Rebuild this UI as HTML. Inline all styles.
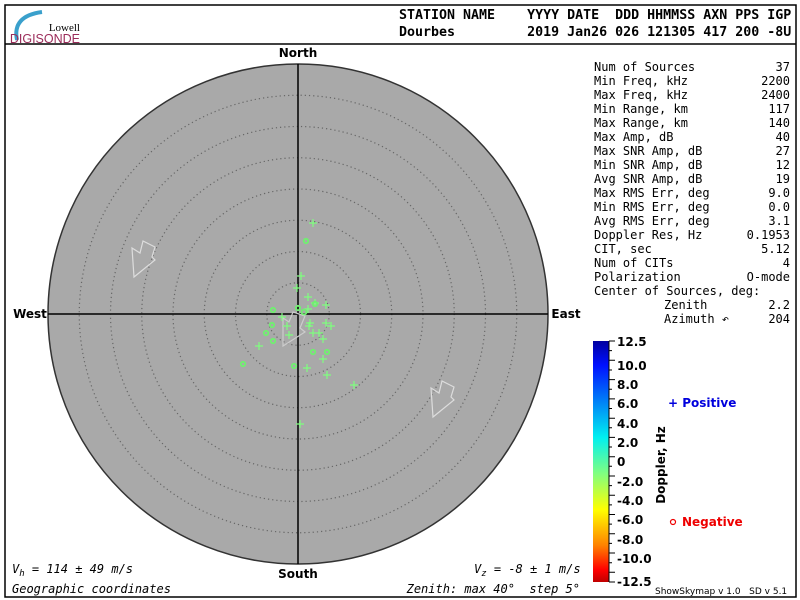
<!DOCTYPE html>
<html><head><style>
body{margin:0;background:#fff;width:800px;height:600px;overflow:hidden}
svg{display:block}
text{white-space:pre}
.m{font-family:"DejaVu Sans Mono","Liberation Mono",monospace;font-size:12px;fill:#000}
.b{font-family:"DejaVu Sans","Liberation Sans",sans-serif;font-weight:bold;font-size:12px}
</style></head><body>
<svg width="800" height="600" viewBox="0 0 800 600" xml:space="preserve">
<rect x="5" y="5" width="791" height="592" fill="none" stroke="#000" stroke-width="1.5"/>
<line x1="5" y1="44" x2="796" y2="44" stroke="#000" stroke-width="1.5"/>
<path d="M17 40 Q12 16 42 12" stroke="#3aa0cc" stroke-width="4" fill="none"/>
<text x="80" y="31" font-family="Liberation Serif,serif" font-size="11" text-anchor="end">Lowell</text>
<text x="80" y="43" font-family="Liberation Sans,sans-serif" font-size="12.5" fill="#9b2c5a" text-anchor="end">DIGISONDE</text>
<text x="399" y="19" style="font-family:'DejaVu Sans Mono',monospace;font-size:13.3px;font-weight:bold">STATION NAME    YYYY DATE  DDD HHMMSS AXN PPS IGP</text>
<text x="399" y="36" style="font-family:'DejaVu Sans Mono',monospace;font-size:13.3px;font-weight:bold">Dourbes         2019 Jan26 026 121305 417 200 -8U</text>
<circle cx="298" cy="314" r="250" fill="#a9a9a9" stroke="#333" stroke-width="1.5"/>
<g fill="none" stroke="#666" stroke-width="1.2" stroke-dasharray="1.2 3">
<circle cx="298" cy="314" r="31.25"/><circle cx="298" cy="314" r="62.5"/><circle cx="298" cy="314" r="93.75"/><circle cx="298" cy="314" r="125"/><circle cx="298" cy="314" r="156.25"/><circle cx="298" cy="314" r="187.5"/><circle cx="298" cy="314" r="218.75"/>
</g>
<line x1="298" y1="64" x2="298" y2="564" stroke="#000" stroke-width="1.5"/>
<line x1="48" y1="314" x2="548" y2="314" stroke="#000" stroke-width="1.5"/>
<text class="b" x="298" y="57" text-anchor="middle" font-size="11.5">North</text>
<text class="b" x="298" y="578" text-anchor="middle" font-size="11.5">South</text>
<text class="b" x="30" y="318" text-anchor="middle" font-size="11.5">West</text>
<text class="b" x="566" y="318" text-anchor="middle" font-size="11.5">East</text>
<g fill="none" stroke="#ddd" stroke-width="1.2">
<polygon points="132,248 134,277 155,260 152,257 155,247 143,241 140,253"/>
<polygon points="431,388 433,417 454,400 451,397 454,387 442,381 439,393"/>
<polygon points="283,318 283,346 305,332 300,328 305,316 293,312 289,322" stroke="#ccc"/>
</g>
<g stroke="#7fff7f" stroke-width="1.2" fill="none">
<path d="M313 219v8M309 223h8 M301 272v8M297 276h8 M297 284v8M293 288h8 M308 293v8M304 297h8 M315 299v8M311 303h8 M326 301v8M322 305h8 M308 305v8M304 309h8 M282 313v8M278 317h8 M287 322v8M283 326h8 M310 319v8M306 323h8 M309 322v8M305 326h8 M326 319v8M322 323h8 M331 322v8M327 326h8 M289 331v8M285 335h8 M313 329v8M309 333h8 M319 329v8M315 333h8 M323 335v8M319 339h8 M259 342v8M255 346h8 M323 355v8M319 359h8 M307 364v8M303 368h8 M327 371v8M323 375h8 M354 381v8M350 385h8 M300 420v8M296 424h8"/>
</g>
<g stroke="#70f070" stroke-width="1.8" fill="none">
<circle cx="306" cy="241" r="2.2"/><circle cx="273" cy="310" r="2.2"/><circle cx="298" cy="308" r="2.2"/><circle cx="315" cy="304" r="2.2"/><circle cx="272" cy="325" r="2.2"/><circle cx="266" cy="333" r="2.2"/><circle cx="273" cy="341" r="2.2"/><circle cx="243" cy="364" r="2.2"/><circle cx="294" cy="366" r="2.2"/><circle cx="313" cy="352" r="2.2"/><circle cx="327" cy="352" r="2.2"/><circle cx="304" cy="312" r="2.5"/>
</g>
<text x="12" y="573" class="m" font-style="italic">V<tspan font-size="9" dy="3">h</tspan><tspan dy="-3"> = 114 ± 49 m/s</tspan></text>
<text x="12" y="593" class="m" font-style="italic">Geographic coordinates</text>
<text x="474" y="573" class="m" font-style="italic">V<tspan font-size="9" dy="3">z</tspan><tspan dy="-3"> = -8 ± 1 m/s</tspan></text>
<text x="580" y="593" class="m" font-style="italic" text-anchor="end">Zenith: max 40°  step 5°</text>
<g class="m">
<text x="594" y="71">Num of Sources</text><text x="790" y="71" text-anchor="end">37</text>
<text x="594" y="85">Min Freq, kHz</text><text x="790" y="85" text-anchor="end">2200</text>
<text x="594" y="99">Max Freq, kHz</text><text x="790" y="99" text-anchor="end">2400</text>
<text x="594" y="113">Min Range, km</text><text x="790" y="113" text-anchor="end">117</text>
<text x="594" y="127">Max Range, km</text><text x="790" y="127" text-anchor="end">140</text>
<text x="594" y="141">Max Amp, dB</text><text x="790" y="141" text-anchor="end">40</text>
<text x="594" y="155">Max SNR Amp, dB</text><text x="790" y="155" text-anchor="end">27</text>
<text x="594" y="169">Min SNR Amp, dB</text><text x="790" y="169" text-anchor="end">12</text>
<text x="594" y="183">Avg SNR Amp, dB</text><text x="790" y="183" text-anchor="end">19</text>
<text x="594" y="197">Max RMS Err, deg</text><text x="790" y="197" text-anchor="end">9.0</text>
<text x="594" y="211">Min RMS Err, deg</text><text x="790" y="211" text-anchor="end">0.0</text>
<text x="594" y="225">Avg RMS Err, deg</text><text x="790" y="225" text-anchor="end">3.1</text>
<text x="594" y="239">Doppler Res, Hz</text><text x="790" y="239" text-anchor="end">0.1953</text>
<text x="594" y="253">CIT, sec</text><text x="790" y="253" text-anchor="end">5.12</text>
<text x="594" y="267">Num of CITs</text><text x="790" y="267" text-anchor="end">4</text>
<text x="594" y="281">Polarization</text><text x="790" y="281" text-anchor="end">O-mode</text>
<text x="594" y="295">Center of Sources, deg:</text>
<text x="664" y="309">Zenith</text><text x="790" y="309" text-anchor="end">2.2</text>
<text x="664" y="323">Azimuth ↶</text><text x="790" y="323" text-anchor="end">204</text>
</g>
<defs><linearGradient id="g" x1="0" y1="0" x2="0" y2="1">
<stop offset="0" stop-color="#0000a0"/><stop offset="0.1" stop-color="#0010ff"/><stop offset="0.4" stop-color="#00f0f0"/><stop offset="0.55" stop-color="#80ff80"/><stop offset="0.7" stop-color="#ffff00"/><stop offset="0.85" stop-color="#ff8000"/><stop offset="0.95" stop-color="#ff0000"/><stop offset="1" stop-color="#c00000"/>
</linearGradient></defs>
<rect x="593" y="341" width="16" height="241" fill="url(#g)"/>
<g stroke="#000" stroke-width="1">
<line x1="609" y1="341" x2="609" y2="582"/>
<path d="M609 341h6M609 350.6h3M609 360.3h6M609 370h3M609 379.6h6M609 389.2h3M609 398.9h6M609 408.5h3M609 418.2h6M609 427.8h3M609 437.4h6M609 447h3M609 456.7h6M609 466.3h3M609 476h6M609 485.6h3M609 495.2h6M609 504.9h3M609 514.5h6M609 524.1h3M609 533.8h6M609 543.4h3M609 553h6M609 562.7h3M609 572.3h6M609 582h6"/>
</g>
<g class="b" font-size="11.5">
<text x="617" y="346">12.5</text><text x="617" y="370">10.0</text><text x="617" y="389">8.0</text><text x="617" y="408">6.0</text><text x="617" y="428">4.0</text><text x="617" y="447">2.0</text><text x="617" y="466">0</text><text x="617" y="486">-2.0</text><text x="617" y="505">-4.0</text><text x="617" y="524">-6.0</text><text x="617" y="544">-8.0</text><text x="617" y="563">-10.0</text><text x="617" y="586">-12.5</text>
</g>
<text class="b" font-size="9" transform="translate(665,465) rotate(-90)" text-anchor="middle">Doppler, Hz</text>
<text class="b" x="668" y="407" fill="#0000dd" font-size="10.5">+ Positive</text>
<circle cx="673" cy="522" r="2.5" fill="none" stroke="#e00" stroke-width="1.2"/>
<text class="b" x="682" y="526" fill="#e00" font-size="10.5">Negative</text>
<text x="655" y="594" font-family="DejaVu Sans,sans-serif" font-size="9">ShowSkymap v 1.0   SD v 5.1</text>
</svg>
</body></html>
